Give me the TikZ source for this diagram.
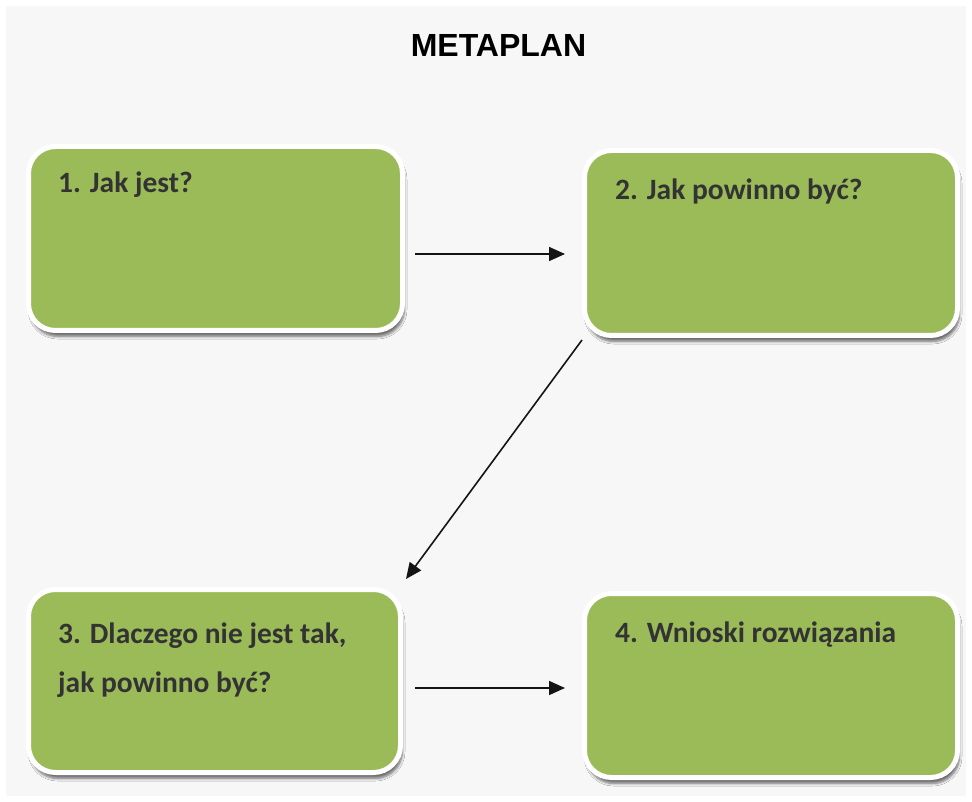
\documentclass[tikz,border=0pt]{standalone}
\usepackage{fontspec}
\setmainfont{Carlito}
\newfontfamily\titlefont{Liberation Sans}
\usetikzlibrary{arrows.meta,shadows.blur}

\definecolor{cardgreen}{HTML}{9BBB59}
\definecolor{pagebg}{HTML}{F7F7F7}
\definecolor{cardtext}{HTML}{333333}
\definecolor{arrowink}{HTML}{141414}

\tikzset{
  card/.style={rectangle, rounded corners=27pt, fill=cardgreen, draw=white,
    line width=5pt, inner sep=0pt,
    blur shadow={shadow xshift=2pt, shadow yshift=-6pt, shadow blur radius=2.5pt,
      shadow blur steps=6, shadow opacity=55}},
  cardlabel/.style={anchor=base west, inner sep=0pt, text=cardtext,
    font=\fontsize{29.5}{34}\selectfont\bfseries},
  conn/.style={draw=arrowink, line width=1.6pt,
    -{Triangle[length=16pt,width=14pt]}},
}

\begin{document}
\begin{tikzpicture}[x=1pt,y=-1pt]
  % page
  \fill[white] (0,0) rectangle (972,802);
  \fill[pagebg] (6,6) rectangle (966,796);
  \useasboundingbox (0,0) rectangle (972,802);

  % title
  \node[anchor=base, inner sep=0pt, font=\titlefont\fontsize{32}{38}\selectfont\bfseries]
    (title) at (498.5,57) {METAPLAN};

  % cards
  \node[card, minimum width=374pt, minimum height=184pt] (b1) at (215.5,238.5) {};
  \node[card, minimum width=373pt, minimum height=185pt] (b2) at (771,243) {};
  \node[card, minimum width=372pt, minimum height=183pt] (b3) at (214.5,681) {};
  \node[card, minimum width=373pt, minimum height=184pt] (b4) at (771,685.5) {};

  % card texts
  \node[cardlabel] (t1) at (58,193) {1. Jak jest?};
  \node[cardlabel] (t2) at (615,200) {2. Jak powinno być?};
  \node[cardlabel] (t3a) at (58,643) {3. Dlaczego nie jest tak,};
  \node[cardlabel] (t3b) at (58,692) {jak powinno być?};
  \node[cardlabel] (t4) at (615,642) {4. Wnioski rozwiązania};

  % connectors
  \draw[conn] ([xshift=10pt,yshift=-15.5pt]b1.east) -- ([xshift=-17pt,yshift=-11pt]b2.west);
  \draw[conn] ([xshift=0pt,yshift=-2pt]b2.south west) -- ([xshift=3pt,yshift=8pt]b3.north east);
  \draw[conn] ([xshift=12pt,yshift=-7pt]b3.east) -- ([xshift=-17pt,yshift=-2.5pt]b4.west);
\end{tikzpicture}
\end{document}
